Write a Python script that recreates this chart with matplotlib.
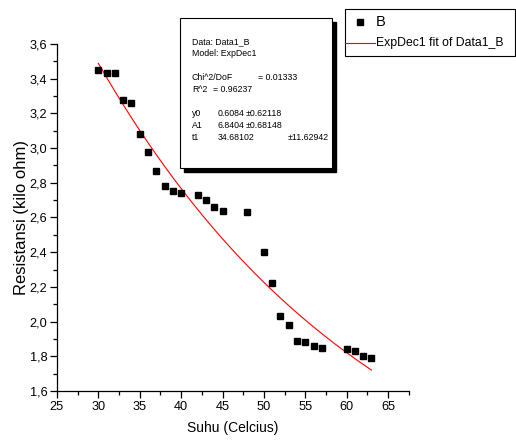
import numpy as np
import matplotlib
matplotlib.use("Agg")
import matplotlib.pyplot as plt
from matplotlib.ticker import MultipleLocator, FuncFormatter
from matplotlib.patches import Rectangle
from matplotlib.lines import Line2D

plt.rcParams['font.family'] = ['Liberation Sans', 'DejaVu Sans']

# Data
suhu = [30, 31, 32, 33, 34, 35, 36, 37, 38, 39, 40, 42, 43, 44, 45, 48,
        50, 51, 52, 53, 54, 55, 56, 57, 60, 61, 62, 63]
resistansi = [3.45, 3.43, 3.43, 3.28, 3.26, 3.08, 2.98, 2.87, 2.78, 2.75, 2.74,
              2.73, 2.70, 2.66, 2.64, 2.63, 2.40, 2.22, 2.03, 1.98, 1.89, 1.88,
              1.86, 1.85, 1.84, 1.83, 1.80, 1.79]
# ExpDec1 fit parameters
y0, A1, t1 = 0.6084, 6.8404, 34.68102

W, H = 516, 443
fig = plt.figure(figsize=(W / 100, H / 100), dpi=100)

def fx(x):
    return x / W

def fy(y):
    return 1 - y / H

ax_l, ax_r, ax_t, ax_b = 57, 408.7, 44, 391
ax = fig.add_axes([fx(ax_l), fy(ax_b), fx(ax_r - ax_l), (ax_b - ax_t) / H])

ax.plot(suhu, resistansi, 's', color='black', markersize=5, zorder=3)
xf = np.linspace(min(suhu), max(suhu), 200)
ax.plot(xf, y0 + A1 * np.exp(-xf / t1), color='red', lw=0.8, zorder=2)

ax.set_xlim(25, 67.5)
ax.set_ylim(1.6, 3.6)
ax.xaxis.set_major_locator(MultipleLocator(5))
ax.xaxis.set_minor_locator(MultipleLocator(2.5))
ax.yaxis.set_major_locator(MultipleLocator(0.2))
ax.yaxis.set_minor_locator(MultipleLocator(0.1))
ax.yaxis.set_major_formatter(FuncFormatter(lambda v, p: f"{v:.1f}".replace('.', ',')))
ax.xaxis.set_major_formatter(FuncFormatter(lambda v, p: f"{v:.0f}"))
for s in ['top', 'right']:
    ax.spines[s].set_visible(False)
for s in ['left', 'bottom']:
    ax.spines[s].set_linewidth(0.9)
ax.tick_params(which='major', direction='out', length=5, width=0.9, labelsize=9.2, pad=2)
ax.tick_params(which='minor', direction='out', length=3, width=0.9)
ax.set_xlabel('Suhu (Celcius)', fontsize=10)
ax.set_ylabel('Resistansi (kilo ohm)', fontsize=12)
ax.xaxis.set_label_coords(0.5, (ax_b - 428) / (ax_b - ax_t))
ax.yaxis.set_label_coords((21 - ax_l) / (ax_r - ax_l), 0.5)
ax.xaxis.label.set_va('center')
ax.yaxis.label.set_va('center')

# Fit info box with shadow
bx0, by0, bx1, by1 = 180, 18, 332, 168
sh = 4
fig.patches.append(Rectangle((fx(bx0 + sh), fy(by1 + sh)), fx(bx1 - bx0), (by1 - by0) / H,
                             transform=fig.transFigure, facecolor='black', edgecolor='black', zorder=5))
fig.patches.append(Rectangle((fx(bx0), fy(by1)), fx(bx1 - bx0), (by1 - by0) / H,
                             transform=fig.transFigure, facecolor='white', edgecolor='black',
                             lw=0.8, zorder=6))
fs = 6.3
def t(x, y, s):
    fig.text(fx(x), fy(y), s, fontsize=fs, va='center', ha='left', zorder=7)
t(192, 42, 'Data: Data1_B')
t(192, 53, 'Model: ExpDec1')
t(192, 77, 'Chi^2/DoF')
t(258, 77, '= 0.01333')
t(192, 89, 'R^2')
t(213, 89, '= 0.96237')
t(192, 114, 'y0')
t(218, 114, '0.6084')
t(246, 114, '\u00b10.62118')
t(192, 126, 'A1')
t(218, 126, '6.8404')
t(246, 126, '\u00b10.68148')
t(192, 137, 't1')
t(218, 137, '34.68102')
t(288, 137, '\u00b111.62942')

# Legend box
lx0, ly0, lx1, ly1 = 345, 9, 515, 56
fig.patches.append(Rectangle((fx(lx0), fy(ly1)), fx(lx1 - lx0), (ly1 - ly0) / H,
                             transform=fig.transFigure, facecolor='white', edgecolor='black',
                             lw=0.8, zorder=5))
fig.lines.append(Line2D([fx(360)], [fy(22)], marker='s', color='black', markersize=5,
                        linestyle='none', transform=fig.transFigure, zorder=6))
fig.lines.append(Line2D([fx(345), fx(375)], [fy(43), fy(43)], color='red', lw=0.8,
                        transform=fig.transFigure, zorder=6))
fig.text(fx(376), fy(22), 'B', fontsize=10.5, va='center', ha='left', zorder=7)
fig.text(fx(376), fy(43), 'ExpDec1 fit of Data1_B', fontsize=8.8, va='center', ha='left', zorder=7)

fig.savefig('out.png', dpi=100)
